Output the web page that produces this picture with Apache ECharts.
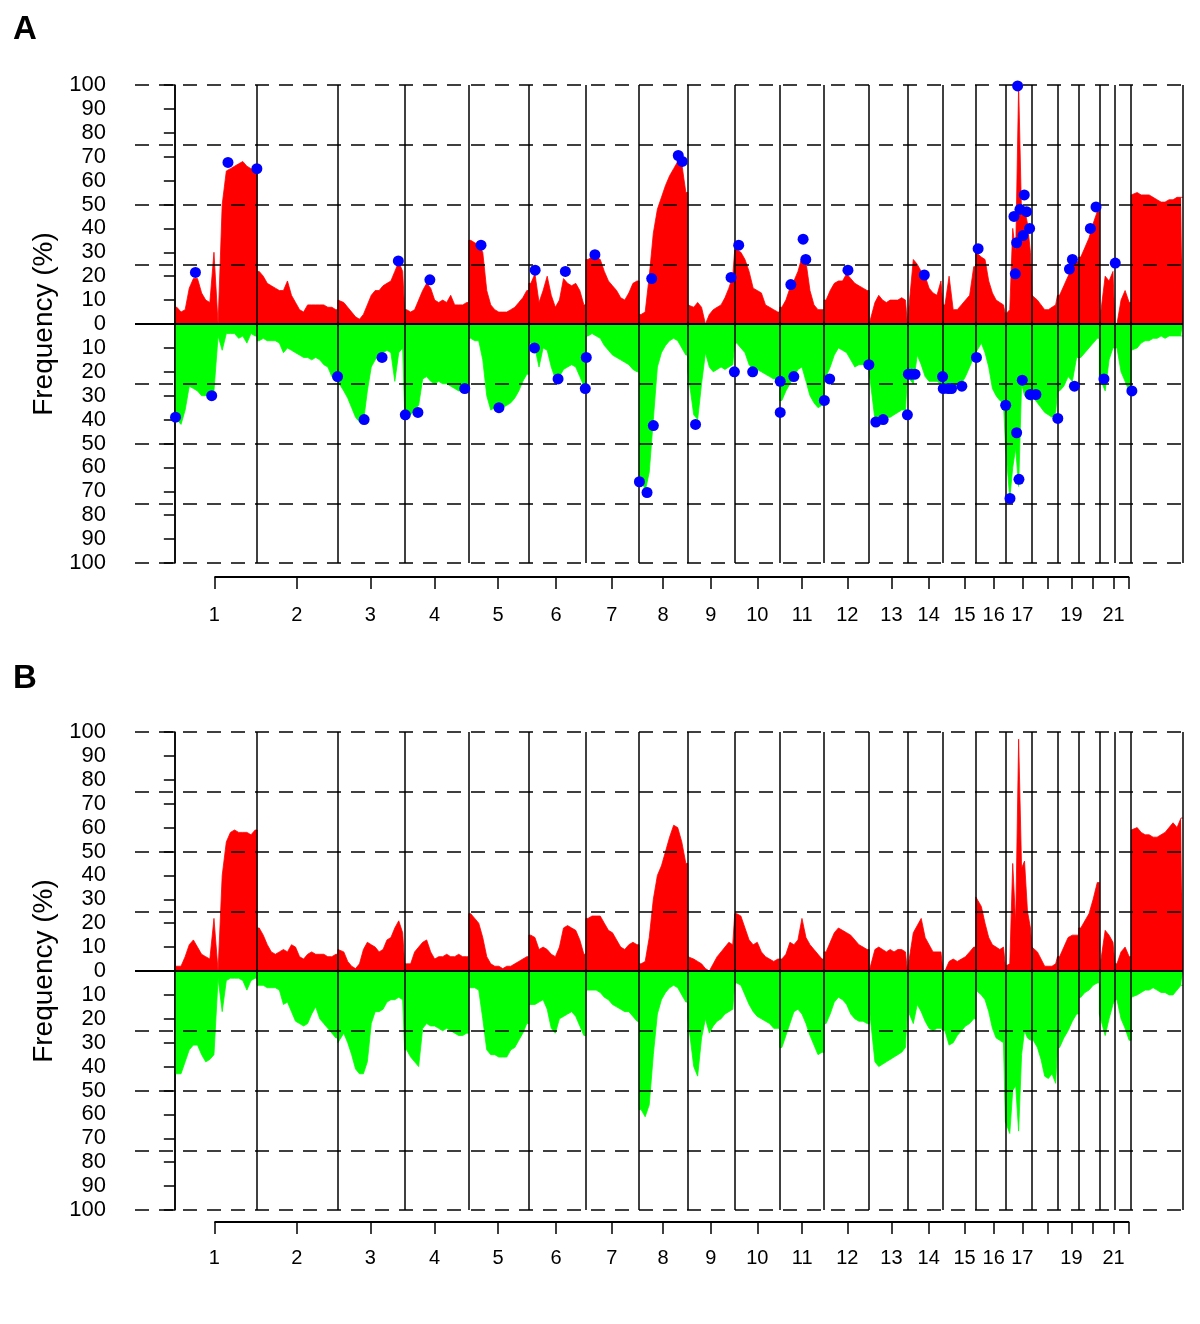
<!DOCTYPE html>
<html>
<head>
<meta charset="utf-8">
<script src="https://cdn.jsdelivr.net/npm/echarts@6/dist/echarts.min.js"></script>
<style>
  html, body { margin: 0; padding: 0; background: #fff; }
  #chart { width: 1200px; height: 1324px; }
</style>
</head>
<body>
<div id="chart"></div>
<script>
// genome layout (Mb)
const chromNames = ["1", "2", "3", "4", "5", "6", "7", "8", "9", "10", "11", "12",
  "13", "14", "15", "16", "17", "18", "19", "20", "21", "22", "X"];
const chromLen = [248, 243, 201, 193, 181, 172, 160, 147, 141, 136, 133, 136,
  115, 107, 99, 89, 80, 77, 64, 62, 47, 49, 156];
// bottom axis ticks (Mb) for chromosomes 1..22, and which ones carry a label
const axisTickMb = [119, 367, 589, 782, 973, 1148, 1316, 1470, 1614, 1754, 1889, 2025,
  2158, 2270, 2378, 2466, 2552, 2629, 2700, 2764, 2827, 2874];
const labelledChroms = ["1", "2", "3", "4", "5", "6", "7", "8", "9", "10", "11", "12",
  "13", "14", "15", "16", "17", "19", "21"];
const refLevels = [25, 50, 75, 100];

// panel A: gain / loss frequency (%) per chromosome, evenly spaced bins
const gainA = [
  [7, 5, 6, 15, 19, 19, 13, 10, 9, 30, 0, 50, 64, 65, 66, 67, 68, 66, 65, 64],
  [22, 20, 17, 16, 15, 14, 14, 18, 12, 9, 6, 5, 8, 8, 8, 8, 8, 7, 7, 6],
  [10, 9, 7, 5, 3, 2, 4, 8, 12, 14, 14, 16, 17, 18, 22, 26, 22],
  [6, 5, 6, 10, 14, 17, 15, 10, 9, 10, 9, 12, 8, 8, 8, 9],
  [35, 34, 33, 30, 14, 8, 6, 5, 5, 5, 6, 7, 9, 11, 14],
  [17, 21, 9, 14, 20, 12, 7, 10, 19, 17, 16, 17, 14, 8],
  [27, 28, 28, 27, 22, 18, 16, 14, 11, 10, 13, 17, 18],
  [4, 5, 20, 38, 48, 53, 58, 62, 65, 68, 67, 55],
  [8, 7, 9, 7, 0, 4, 6, 7, 8, 11, 15, 20],
  [31, 30, 27, 22, 15, 14, 13, 8, 7, 6, 5],
  [7, 10, 15, 18, 22, 28, 26, 14, 8, 6, 6],
  [10, 14, 17, 18, 18, 21, 19, 17, 16, 15, 14],
  [0, 9, 12, 10, 9, 10, 10, 10, 11, 10],
  [0, 27, 25, 22, 20, 15, 13, 12, 18],
  [8, 20, 6, 6, 8, 10, 12, 24],
  [30, 28, 27, 18, 13, 10, 9, 8],
  [4, 6, 40, 30, 100, 45, 48, 42, 30],
  [12, 10, 8, 6, 6, 7, 8],
  [12, 16, 20, 24, 26],
  [28, 32, 36, 42, 47],
  [0, 20, 18, 22],
  [0, 10, 14, 9],
  [54, 55, 54, 54, 54, 53, 52, 51, 51, 52, 52, 53, 53]
];
const lossA = [
  [40, 42, 36, 26, 27, 28, 30, 30, 30, 28, 5, 11, 4, 4, 4, 6, 5, 8, 4, 5],
  [7, 6, 7, 7, 7, 8, 12, 10, 11, 12, 13, 14, 14, 15, 14, 15, 17, 18, 22, 24],
  [24, 28, 31, 35, 39, 41, 41, 28, 18, 15, 13, 12, 11, 12, 24, 12, 10],
  [37, 38, 36, 34, 23, 22, 24, 25, 24, 25, 25, 26, 27, 28, 28, 26],
  [6, 7, 7, 15, 30, 36, 35, 35, 35, 34, 33, 31, 28, 24, 21],
  [8, 10, 18, 10, 11, 18, 23, 22, 19, 18, 17, 18, 22, 26],
  [5, 4, 5, 6, 9, 11, 13, 14, 15, 16, 17, 19, 20],
  [64, 70, 62, 40, 18, 12, 9, 7, 6, 7, 10, 13],
  [20, 38, 40, 25, 12, 18, 20, 19, 18, 19, 18, 17],
  [8, 10, 12, 17, 19, 19, 20, 21, 22, 23, 23],
  [32, 28, 25, 22, 19, 18, 24, 30, 33, 35, 34],
  [22, 18, 13, 10, 11, 12, 15, 18, 17, 17, 18],
  [20, 40, 40, 40, 39, 39, 38, 37, 36, 36],
  [22, 25, 13, 17, 22, 24, 24, 24, 25],
  [27, 28, 27, 25, 25, 22, 18, 14],
  [12, 8, 12, 18, 27, 30, 32, 33],
  [50, 73, 60, 52, 68, 25, 30, 31, 32],
  [30, 33, 35, 37, 38, 39, 37],
  [28, 26, 22, 24, 14],
  [14, 12, 10, 8, 6],
  [22, 28, 15, 10],
  [10, 20, 24, 28],
  [11, 10, 8, 7, 7, 6, 6, 5, 6, 5, 5, 5, 5]
];
// panel A: significant regions [position Mb, frequency (%) signed: + gain, - loss]
const peaksA = [
  [2, -39], [62, 21.6], [111, -30], [160, 67.6], [247, 65],
  [490, -22],
  [570, -40], [624, -14], [673, 26.4],
  [694, -38], [732, -37], [768, 18.5], [873, -27],
  [922, 33], [976, -35],
  [1083, -10], [1085, 22.5], [1154, -23], [1176, 22], [1236, -27], [1239, -14],
  [1265, 29],
  [1399, -66], [1422, -70.5], [1436, 19], [1441, -42.5], [1516, 70.5], [1528, 68],
  [1568, -42], [1675, 19.5], [1685, -20],
  [1698, 33], [1740, -20],
  [1823, -24], [1823, -37], [1855, 16.5], [1864, -22], [1892, 35.5], [1900, 27], [1956, -32],
  [1972, -23], [2027, 22.5], [2090, -17],
  [2111, -41], [2133, -40], [2206, -38],
  [2209, -21], [2219, -21], [2229, -21], [2257, 20.5],
  [2312, -22], [2314, -27], [2329, -27], [2339, -27], [2370, -26], [2414, -14], [2419, 31.5],
  [2502, -34],
  [2515, -73], [2527, 45], [2531, 21], [2535, 34], [2535, -45.5], [2538, 99.6], [2542, -65],
  [2545, 48], [2552, -23.5], [2554, 37], [2558, 54], [2565, 47], [2574, 40], [2576, -29.5],
  [2593, -29.5], [2659, -39.5],
  [2694, 23], [2703, 27], [2709, -26],
  [2757, 40], [2774, 49],
  [2798, -23], [2832, 25.5],
  [2882, -28]
];

// panel B
const gainB = [
  [2, 2, 6, 11, 13, 10, 7, 6, 5, 22, 0, 40, 54, 58, 59, 58, 58, 58, 57, 59],
  [18, 15, 11, 8, 7, 8, 9, 8, 11, 10, 6, 5, 7, 8, 7, 7, 7, 6, 6, 7],
  [9, 8, 4, 2, 1, 3, 9, 12, 11, 10, 8, 9, 13, 14, 18, 21, 16],
  [3, 3, 8, 10, 12, 13, 8, 5, 6, 6, 7, 6, 6, 7, 6, 6],
  [24, 22, 20, 14, 6, 3, 2, 2, 1, 2, 2, 3, 4, 5, 6],
  [15, 14, 9, 10, 9, 7, 6, 10, 18, 19, 18, 17, 13, 7],
  [22, 23, 23, 23, 20, 17, 16, 13, 10, 9, 11, 12, 11],
  [3, 4, 14, 30, 40, 44, 50, 56, 61, 60, 54, 45],
  [6, 5, 4, 3, 1, 0, 3, 6, 8, 10, 12, 11],
  [24, 23, 18, 13, 11, 12, 8, 6, 5, 4, 5],
  [5, 7, 12, 11, 13, 22, 14, 11, 9, 7, 5],
  [8, 12, 16, 18, 17, 16, 15, 13, 11, 10, 9],
  [0, 9, 10, 9, 8, 9, 8, 9, 9, 8],
  [0, 16, 19, 22, 14, 11, 8, 8, 8],
  [0, 4, 5, 4, 5, 6, 8, 10],
  [31, 27, 20, 14, 11, 10, 9, 10],
  [2, 3, 45, 20, 97, 43, 46, 25, 18],
  [10, 8, 5, 2, 2, 2, 3],
  [6, 10, 14, 15, 15],
  [18, 21, 24, 30, 37],
  [0, 17, 15, 12],
  [3, 8, 10, 6],
  [59, 60, 58, 57, 57, 56, 56, 57, 58, 60, 62, 60, 64]
];
const lossB = [
  [43, 43, 38, 33, 31, 31, 35, 38, 37, 35, 3, 17, 4, 3, 3, 3, 4, 8, 4, 3],
  [6, 6, 7, 7, 7, 8, 14, 13, 17, 21, 22, 23, 22, 18, 15, 20, 22, 24, 26, 28],
  [30, 26, 30, 35, 41, 43, 43, 38, 22, 17, 17, 16, 13, 12, 12, 11, 12],
  [33, 36, 38, 40, 24, 22, 23, 23, 24, 25, 24, 25, 26, 27, 27, 26],
  [7, 7, 8, 20, 33, 35, 35, 36, 36, 36, 33, 32, 29, 26, 22],
  [14, 14, 13, 12, 16, 24, 26, 20, 19, 18, 17, 19, 23, 27],
  [8, 8, 8, 9, 11, 12, 14, 15, 16, 17, 17, 19, 21],
  [58, 61, 56, 35, 18, 12, 9, 7, 6, 7, 10, 13],
  [20, 40, 44, 28, 20, 26, 23, 21, 20, 18, 17, 16],
  [5, 6, 10, 14, 17, 19, 20, 21, 22, 24, 24],
  [32, 27, 22, 17, 16, 18, 22, 27, 31, 35, 34],
  [22, 18, 13, 11, 12, 14, 18, 20, 21, 21, 22],
  [15, 38, 40, 39, 38, 37, 36, 35, 34, 32],
  [16, 22, 14, 17, 21, 24, 25, 24, 24],
  [25, 31, 30, 27, 25, 23, 22, 20],
  [8, 10, 12, 17, 24, 28, 29, 30],
  [63, 68, 50, 48, 67, 35, 25, 28, 29],
  [28, 32, 37, 44, 45, 43, 47],
  [32, 28, 25, 21, 18],
  [11, 9, 8, 6, 5],
  [18, 27, 20, 14],
  [12, 20, 24, 29],
  [11, 10, 9, 8, 8, 7, 8, 9, 9, 10, 10, 8, 6]
];

const chromStart = [];
let genomeEnd = 0;
chromLen.forEach((len) => { chromStart.push(genomeEnd); genomeEnd += len; });
const boundaries = chromStart.concat([genomeEnd]);
const xMin = -120;

// per-chromosome bins -> [position, value] points, flat at the chromosome edges
function profile(perChrom, sign) {
  const pts = [];
  perChrom.forEach((vals, c) => {
    const s = chromStart[c], len = chromLen[c], n = vals.length;
    pts.push([s, sign * vals[0]]);
    vals.forEach((v, i) => pts.push([s + (i + 0.5) * len / n, sign * v]));
    pts.push([s + len, sign * vals[n - 1]]);
  });
  return pts;
}

const FONT = '"Liberation Sans", Arial, Helvetica, sans-serif';
const panels = [
  { top: 85, axisTop: 576, labelMargin: 28, gain: gainA, loss: lossA, peaks: peaksA },
  { top: 732, axisTop: 1221, labelMargin: 26, gain: gainB, loss: lossB, peaks: null }
];
const plotH = 478;

const grid = [], xAxis = [], yAxis = [], series = [];
panels.forEach((p, k) => {
  const main = 2 * k, sub = 2 * k + 1;
  grid.push({ left: 135, right: 17, top: p.top, height: plotH, outerBoundsMode: "none" });
  grid.push({ left: 135, right: 17, top: p.axisTop, height: 1, outerBoundsMode: "none" });

  xAxis.push({
    gridIndex: main, type: "value", min: xMin, max: genomeEnd, show: false
  });
  xAxis.push({
    gridIndex: sub, type: "value", min: xMin, max: genomeEnd, position: "bottom",
    axisLine: { show: false },
    axisTick: {
      show: true, length: 12, customValues: axisTickMb,
      lineStyle: { color: "#000", width: 1.5 }
    },
    axisLabel: {
      show: true, margin: p.labelMargin, fontSize: 20, color: "#000", fontFamily: FONT,
      customValues: axisTickMb.filter((v, i) => labelledChroms.includes(chromNames[i])),
      formatter: (v) => chromNames[axisTickMb.indexOf(v)]
    },
    splitLine: { show: false }
  });

  yAxis.push({
    gridIndex: main, type: "value", min: -100, max: 100, interval: 10,
    name: "Frequency (%)", nameLocation: "middle", nameGap: 76,
    nameTextStyle: { fontSize: 28, color: "#000", fontFamily: FONT },
    axisLine: { show: true, lineStyle: { color: "#000", width: 1.5 } },
    axisTick: { show: true, length: 11, lineStyle: { color: "#000", width: 1.5 } },
    axisLabel: {
      margin: 29, fontSize: 22, color: "#000", fontFamily: FONT,
      formatter: (v) => String(Math.abs(v))
    },
    splitLine: { show: false }
  });
  yAxis.push({ gridIndex: sub, type: "value", min: 0, max: 1, show: false });

  series.push({
    name: "gain", type: "line", xAxisIndex: main, yAxisIndex: main, z: 2,
    data: profile(p.gain, 1), symbol: "none", silent: true,
    lineStyle: { color: "#ff0000", width: 0.8 },
    areaStyle: { color: "#ff0000", opacity: 1 }
  });
  series.push({
    name: "loss", type: "line", xAxisIndex: main, yAxisIndex: main, z: 2,
    data: profile(p.loss, -1), symbol: "none", silent: true,
    lineStyle: { color: "#00ff00", width: 0.8 },
    areaStyle: { color: "#00ff00", opacity: 1 }
  });

  // reference lines, zero line and chromosome boundaries drawn over the areas
  const refData = [];
  refLevels.forEach((lv) => {
    refData.push({ yAxis: lv }, { yAxis: -lv });
  });
  series.push({
    name: "guides", type: "line", xAxisIndex: main, yAxisIndex: main, z: 5,
    data: [], silent: true,
    markLine: {
      silent: true, symbol: ["none", "none"], animation: false,
      label: { show: false },
      emphasis: { disabled: true },
      data: refData.map((d) => Object.assign(d, {
        lineStyle: { color: "#000", width: 1.5, type: [14, 10] }
      })).concat(
        [{ yAxis: 0, lineStyle: { color: "#000", width: 2, type: "solid" } }],
        boundaries.map((b) => ({ xAxis: b, lineStyle: { color: "#000", width: 1.5, type: "solid" } }))
      )
    }
  });

  if (p.peaks) {
    series.push({
      name: "peaks", type: "scatter", xAxisIndex: main, yAxisIndex: main, z: 10,
      data: p.peaks, symbol: "circle", symbolSize: 11, silent: true,
      itemStyle: { color: "#0000ff", opacity: 1 }
    });
  }

  // genome axis line from first to last autosome tick
  series.push({
    name: "axis", type: "line", xAxisIndex: sub, yAxisIndex: sub,
    data: [[axisTickMb[0], 0], [axisTickMb[axisTickMb.length - 1], 0]],
    symbol: "none", silent: true,
    lineStyle: { color: "#000", width: 2 }
  });
});

const chart = echarts.init(document.getElementById("chart"), null, { renderer: "canvas" });
chart.setOption({
  animation: false,
  backgroundColor: "#fff",
  graphic: [
    { type: "text", left: 13, top: 13, style: { text: "A", font: 'bold 33px ' + FONT, fill: "#000" } },
    { type: "text", left: 13, top: 662, style: { text: "B", font: 'bold 33px ' + FONT, fill: "#000" } }
  ],
  grid, xAxis, yAxis, series
});
</script>
</body>
</html>
